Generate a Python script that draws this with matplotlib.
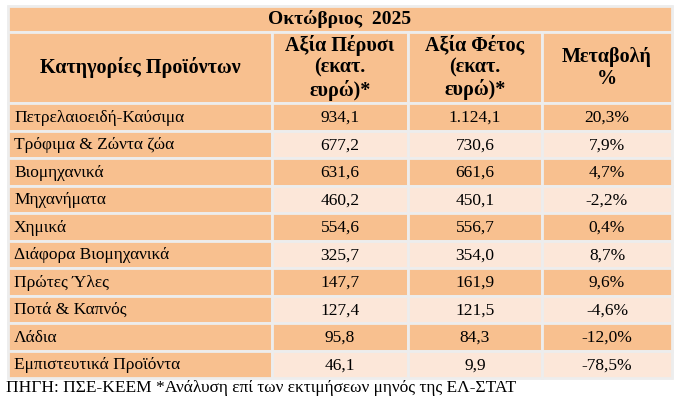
import matplotlib
matplotlib.use("Agg")
import matplotlib.pyplot as plt
from matplotlib.patches import Rectangle

title = "Οκτώβριος  2025"
headers = ["Κατηγορίες Προϊόντων", "Αξία Πέρυσι\n(εκατ.\nευρώ)*", "Αξία Φέτος\n(εκατ.\nευρώ)*", "Μεταβολή\n%"]
categories = ["Πετρελαιοειδή-Καύσιμα", "Τρόφιμα & Ζώντα ζώα", "Βιομηχανικά", "Μηχανήματα", "Χημικά",
              "Διάφορα Βιομηχανικά", "Πρώτες Ύλες", "Ποτά & Καπνός", "Λάδια", "Εμπιστευτικά Προϊόντα"]
last_year = ["934,1", "677,2", "631,6", "460,2", "554,6", "325,7", "147,7", "127,4", "95,8", "46,1"]
this_year = ["1.124,1", "730,6", "661,6", "450,1", "556,7", "354,0", "161,9", "121,5", "84,3", "9,9"]
change = ["20,3%", "7,9%", "4,7%", "-2,2%", "0,4%", "8,7%", "9,6%", "-4,6%", "-12,0%", "-78,5%"]
footer = "ΠΗΓΗ: ΠΣΕ-ΚΕΕΜ *Ανάλυση επί των εκτιμήσεων μηνός της ΕΛ-ΣΤΑΤ"

W, H = 683, 403
fig = plt.figure(figsize=(W/100, H/100), dpi=100)
ax = fig.add_axes([0, 0, 1, 1])
ax.set_xlim(0, W); ax.set_ylim(H, 0); ax.axis("off")
DARK = "#F8C08F"; LIGHT = "#FCE7D9"; EDGE = "#EDEDED"
font = "Liberation Serif"
cols = [8, 272, 408, 542, 672]

def cell(x0, x1, y0, y1, color):
    ax.add_patch(Rectangle((x0, y0), x1-x0, y1-y0, facecolor=color, edgecolor=EDGE, lw=2))

cell(cols[0], cols[-1], 6, 32, DARK)
ax.text((cols[0]+cols[-1])/2, 19.5, title, ha="center", va="center", fontsize=14, fontweight="bold", family=font)
for i, h in enumerate(headers):
    cell(cols[i], cols[i+1], 32, 103, DARK)
    ax.text((cols[i]+cols[i+1])/2, 68, h, ha="center", va="center", fontsize=14.5, fontweight="bold",
            family=font, linespacing=1.1)
rh = 27.5
for r in range(len(categories)):
    y0 = 103 + r*rh; y1 = y0 + rh; yc = (y0+y1)/2 + 1
    c = DARK if r % 2 == 0 else LIGHT
    cell(cols[0], cols[1], y0, y1, DARK)
    for j in range(1, 4):
        cell(cols[j], cols[j+1], y0, y1, c)
    ax.text(cols[0]+6, yc, categories[r], ha="left", va="center", fontsize=12.5, family=font)
    for j, v in enumerate([last_year[r], this_year[r], change[r]], start=1):
        ax.text((cols[j]+cols[j+1])/2, yc, v, ha="center", va="center", fontsize=12.5, family=font)
ax.text(6, 388, footer, ha="left", va="center", fontsize=12.5, family=font)
fig.savefig("out.png", dpi=100, facecolor="white")
